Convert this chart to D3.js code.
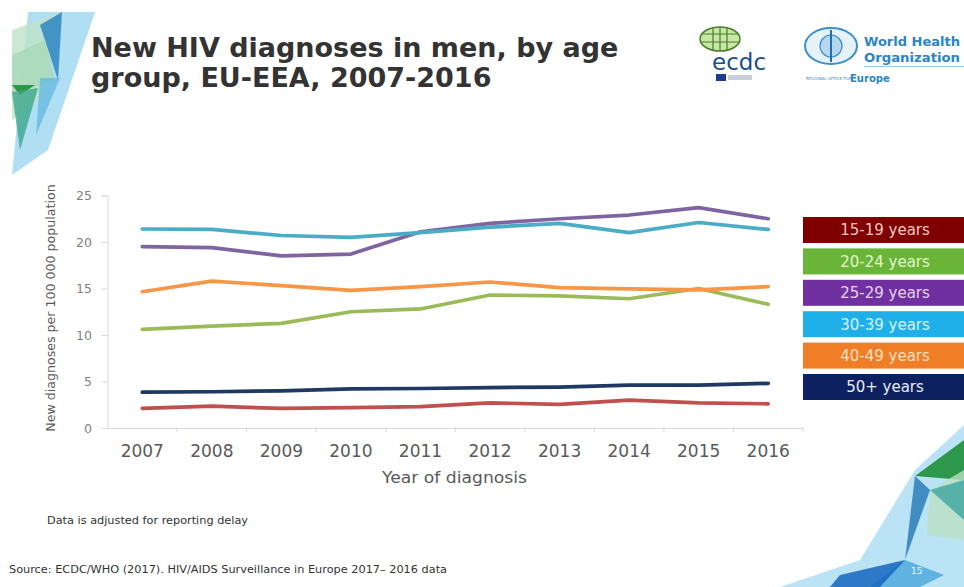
<!DOCTYPE html>
<html>
<head>
<meta charset="utf-8">
<script src="https://cdn.jsdelivr.net/npm/d3@7"></script>
<style>
  html, body { margin: 0; padding: 0; background: #fff; }
  svg { display: block; }
  text { font-family: "DejaVu Sans", sans-serif; }
</style>
</head>
<body>
<svg id="chart" width="964" height="587"></svg>
<script>
// Years of diagnosis (x categories)
const years = ["2007","2008","2009","2010","2011","2012","2013","2014","2015","2016"];

// Age groups shown in the legend, top to bottom
const ageGroups = ["15-19 years","20-24 years","25-29 years","30-39 years","40-49 years","50+ years"];

// Diagnoses per 100 000 population, one array per age group
const rate15to19 = [2.1, 2.35, 2.1, 2.2, 2.3, 2.7, 2.55, 3.0, 2.7, 2.6];
const rate20to24 = [10.6, 10.95, 11.25, 12.5, 12.8, 14.3, 14.2, 13.9, 15.0, 13.3];
const rate25to29 = [19.5, 19.4, 18.5, 18.7, 21.1, 22.0, 22.5, 22.9, 23.7, 22.5];
const rate30to39 = [21.4, 21.35, 20.7, 20.5, 21.0, 21.6, 22.0, 21.0, 22.1, 21.35];
const rate40to49 = [14.65, 15.8, 15.3, 14.8, 15.2, 15.7, 15.1, 14.95, 14.85, 15.2];
const rate50plus = [3.85, 3.9, 4.0, 4.2, 4.25, 4.35, 4.4, 4.6, 4.6, 4.8];

const yTicks = [0, 5, 10, 15, 20, 25];

// Line colours and legend box colours
const lineColors = ["#C0504D", "#9BBB59", "#8064A2", "#4BACC6", "#F79646", "#1F3864"];
const boxColors  = ["#7F0000", "#6AB539", "#7030A0", "#1FB0EA", "#F07E26", "#0D2161"];
const boxText    = ["#F4C7C3", "#E2F5C8", "#E5D3F3", "#D7F2FD", "#FCE0C4", "#E6EBF7"];

const series = [rate15to19, rate20to24, rate25to29, rate30to39, rate40to49, rate50plus];

const svg = d3.select("#chart");

// ---- decorative polygons, top-left corner ----
const deco = svg.append("g");
const polyTL = [
  {pts: [[28,12],[95,12],[48,150],[12,175]], fill: "#8FD0EC", op: 0.7},
  {pts: [[12,30],[62,12],[40,100],[12,120]], fill: "#BFE3C9", op: 0.8},
  {pts: [[40,25],[62,12],[58,80]], fill: "#2E86C1", op: 0.85},
  {pts: [[12,55],[45,40],[55,80],[12,95]], fill: "#A8D8B9", op: 0.8},
  {pts: [[12,85],[35,85],[20,95]], fill: "#1E8F3A", op: 0.9},
  {pts: [[12,92],[38,88],[20,150]], fill: "#3FA58B", op: 0.8},
  {pts: [[40,78],[60,78],[36,135]], fill: "#5DB6E0", op: 0.7}
];
polyTL.forEach(p => deco.append("polygon")
  .attr("points", p.pts.map(d => d.join(",")).join(" "))
  .attr("fill", p.fill).attr("opacity", p.op));

// ---- decorative polygons, bottom-right corner ----
const polyBR = [
  {pts: [[964,425],[964,587],[780,587],[860,560],[915,470]], fill: "#A9DCF2", op: 0.8},
  {pts: [[964,440],[964,480],[915,476]], fill: "#1E8F3A", op: 0.9},
  {pts: [[964,470],[964,540],[927,535],[930,490]], fill: "#B9E0C4", op: 0.8},
  {pts: [[915,476],[930,490],[905,560]], fill: "#2C7DB8", op: 0.85},
  {pts: [[905,560],[944,575],[920,587],[870,587]], fill: "#4AA6DB", op: 0.8},
  {pts: [[840,575],[905,560],[880,587],[830,587]], fill: "#1565C0", op: 0.85},
  {pts: [[930,490],[964,480],[964,520]], fill: "#3FA5A0", op: 0.8}
];
polyBR.forEach(p => deco.append("polygon")
  .attr("points", p.pts.map(d => d.join(",")).join(" "))
  .attr("fill", p.fill).attr("opacity", p.op));

// ---- title ----
const title = svg.append("text").attr("fill", "#333")
  .attr("font-family", "'Open Sans', sans-serif")
  .attr("font-size", 27).attr("font-weight", 700);
title.append("tspan").attr("x", 91).attr("y", 57).text("New HIV diagnoses in men, by age");
title.append("tspan").attr("x", 91).attr("y", 87).text("group, EU-EEA, 2007-2016");

// ---- logos (simplified) ----
const logo = svg.append("g");
// ECDC globe
logo.append("ellipse").attr("cx", 720).attr("cy", 39).attr("rx", 20).attr("ry", 12)
  .attr("fill", "#C8E6A6").attr("stroke", "#4A7D2A").attr("stroke-width", 1.5);
[-7, 0, 7].forEach(dx => logo.append("line")
  .attr("x1", 720 + dx).attr("x2", 720 + dx).attr("y1", 27).attr("y2", 51)
  .attr("stroke", "#4A7D2A").attr("stroke-width", 1.2));
[-5, 3].forEach(dy => logo.append("line")
  .attr("x1", 701).attr("x2", 739).attr("y1", 39 + dy).attr("y2", 39 + dy)
  .attr("stroke", "#4A7D2A").attr("stroke-width", 1.2));
logo.append("text").attr("x", 712).attr("y", 70).attr("font-size", 23)
  .attr("font-family", "Liberation Serif, serif").attr("fill", "#1B4F8A").text("ecdc");
logo.append("rect").attr("x", 716).attr("y", 74).attr("width", 10).attr("height", 7).attr("fill", "#1B3D8F");
logo.append("rect").attr("x", 728).attr("y", 75).attr("width", 24).attr("height", 5).attr("fill", "#C9CED8");
// WHO emblem
logo.append("ellipse").attr("cx", 831).attr("cy", 46).attr("rx", 26).attr("ry", 18)
  .attr("fill", "#E5F2FA").attr("stroke", "#3E8FC8").attr("stroke-width", 2);
logo.append("circle").attr("cx", 831).attr("cy", 46).attr("r", 11)
  .attr("fill", "#B6D8EF").attr("stroke", "#3E8FC8").attr("stroke-width", 1.2);
logo.append("line").attr("x1", 831).attr("x2", 831).attr("y1", 30).attr("y2", 62)
  .attr("stroke", "#1F6FB5").attr("stroke-width", 2);
logo.append("text").attr("x", 864).attr("y", 46).attr("font-size", 12.5).attr("font-weight", 700)
  .attr("textLength", 96).attr("lengthAdjust", "spacingAndGlyphs")
  .attr("fill", "#2A85C6").text("World Health");
logo.append("text").attr("x", 864).attr("y", 62).attr("font-size", 12.5).attr("font-weight", 700)
  .attr("textLength", 96).attr("lengthAdjust", "spacingAndGlyphs")
  .attr("fill", "#2A85C6").text("Organization");
logo.append("rect").attr("x", 864).attr("y", 66).attr("width", 100).attr("height", 1).attr("fill", "#9CC7E6");
logo.append("text").attr("x", 806).attr("y", 80).attr("font-size", 4).attr("fill", "#3A7FC0")
  .text("REGIONAL OFFICE FOR");
logo.append("text").attr("x", 850).attr("y", 82).attr("font-size", 10).attr("font-weight", 700)
  .attr("fill", "#2A85C6").text("Europe");

// ---- chart area ----
const x = d3.scaleBand().domain(years).range([107.5, 803]);
const y = d3.scaleLinear().domain([0, 25]).range([428, 195.5]);

const axisColor = "#D9D9D9";
const labelColor = "#595959";

// y axis
const yAxis = svg.append("g").attr("transform", "translate(107.5,0)")
  .call(d3.axisLeft(y).tickValues(yTicks).tickSize(6).tickPadding(9.5));
yAxis.select(".domain").attr("stroke", axisColor);
yAxis.selectAll(".tick line").attr("stroke", axisColor);
yAxis.selectAll(".tick text").attr("fill", "#7F7F7F").attr("font-size", 12.5)
  .attr("font-family", "'DejaVu Sans', sans-serif");

// x axis, ticks on category boundaries
const xAxis = svg.append("g").attr("transform", "translate(0,428)")
  .call(d3.axisBottom(x).tickSize(0).tickPadding(17.3));
xAxis.select(".domain").attr("stroke", axisColor);
xAxis.selectAll(".tick text").attr("fill", labelColor).attr("font-size", 17)
  .attr("font-family", "'DejaVu Sans', sans-serif");
years.slice(1).forEach(yr => xAxis.append("line")
  .attr("x1", x(yr)).attr("x2", x(yr)).attr("y1", -1).attr("y2", 4)
  .attr("stroke", axisColor));
xAxis.append("line").attr("x1", 803).attr("x2", 803).attr("y1", -1).attr("y2", 4).attr("stroke", axisColor);

// axis titles
svg.append("text").attr("x", 382).attr("y", 483)
  .attr("textLength", 145).attr("lengthAdjust", "spacingAndGlyphs")
  .attr("fill", labelColor).attr("font-size", 16).text("Year of diagnosis");
svg.append("text").attr("transform", "translate(55,308) rotate(-90)").attr("text-anchor", "middle")
  .attr("fill", labelColor).attr("font-size", 12.6).text("New diagnoses per 100 000 population");

// series lines
const line = d3.line()
  .x((d, i) => x(years[i]) + x.bandwidth() / 2)
  .y(d => y(d));
series.forEach((s, k) => svg.append("path")
  .datum(s)
  .attr("d", line)
  .attr("fill", "none")
  .attr("stroke", lineColors[k])
  .attr("stroke-width", 3.7)
  .attr("stroke-linejoin", "round")
  .attr("stroke-linecap", "round"));

// legend boxes
const legend = svg.append("g");
ageGroups.forEach((g, i) => {
  const top = 217 + i * 31.4;
  legend.append("rect").attr("x", 803).attr("y", top).attr("width", 161).attr("height", 26)
    .attr("fill", boxColors[i]);
  legend.append("text").attr("x", 885).attr("y", top + 18.3).attr("text-anchor", "middle")
    .attr("fill", boxText[i]).attr("font-size", 15).text(g);
});

// footnotes
svg.append("text").attr("x", 47).attr("y", 524).attr("font-size", 10.5)
  .attr("textLength", 201).attr("lengthAdjust", "spacingAndGlyphs").attr("fill", "#333")
  .text("Data is adjusted for reporting delay");
svg.append("text").attr("x", 9).attr("y", 573).attr("font-size", 10.5)
  .attr("textLength", 438).attr("lengthAdjust", "spacingAndGlyphs").attr("fill", "#333")
  .text("Source: ECDC/WHO (2017). HIV/AIDS Surveillance in Europe 2017– 2016 data");
svg.append("text").attr("x", 911).attr("y", 574).attr("font-size", 9).attr("fill", "#E8F4FC")
  .text("15");
</script>
</body>
</html>
